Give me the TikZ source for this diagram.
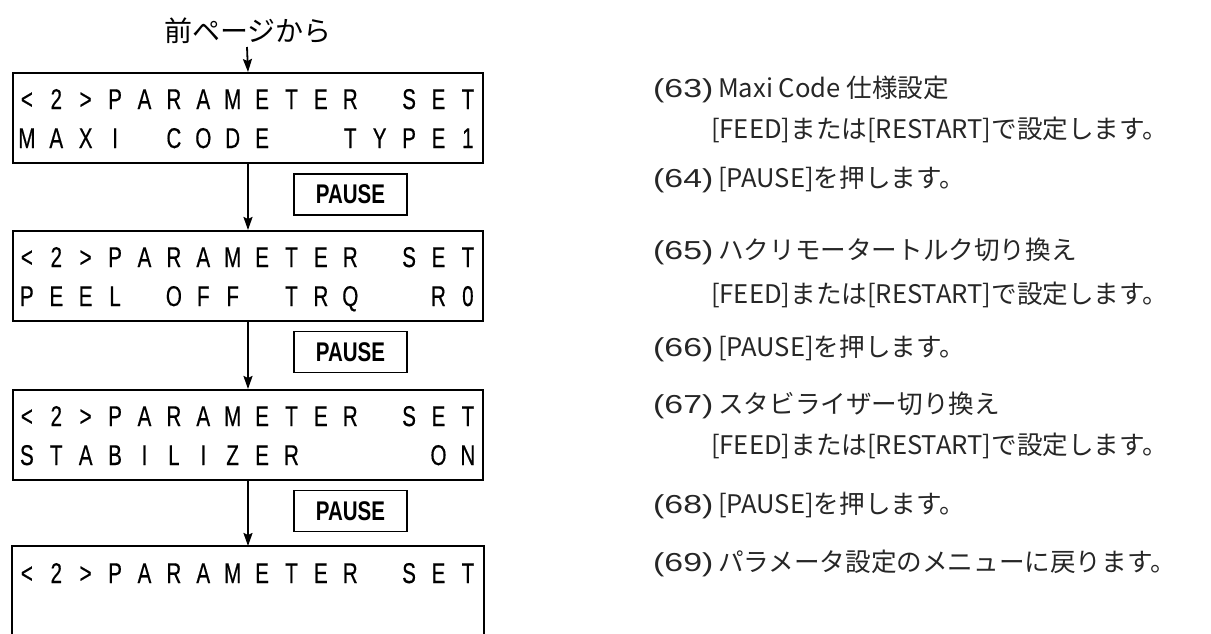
\documentclass[tikz,border=0pt]{standalone}
\usepackage{fontspec}
\setmainfont{Liberation Sans}
\newfontfamily\jpfont{Noto Sans CJK JP}
\newfontfamily\numfont[FakeStretch=1.3]{Liberation Sans}
\newfontfamily\lcdfont[FakeStretch=0.72,FakeBold=0.4]{Liberation Sans}
\newfontfamily\keyfont[FakeStretch=0.76]{Liberation Sans}
\usetikzlibrary{arrows.meta}
\newcommand\lcdcells[1]{\lcdloop#1\relax}
\def\lcdloop#1{\ifx\relax#1\else\makebox[29.4pt]{\ifx.#1\else#1\fi}\expandafter\lcdloop\fi}
\begin{document}
\begin{tikzpicture}[x=1pt,y=-1pt,
  lcdbox/.style={draw, line width=2pt, minimum width=470pt, minimum height=90pt, inner sep=0pt, anchor=north west},
  lcdtext/.style={inner sep=0pt, anchor=base west, font={\lcdfont\fontsize{28.6pt}{30pt}\selectfont}},
  keybox/.style={draw, line width=1.8pt, minimum width=113pt, minimum height=41pt, inner sep=0pt, font={\keyfont\bfseries\fontsize{27pt}{27pt}\selectfont}},
  rtext/.style={inner sep=0pt, anchor=base west, text=black!85, font={\jpfont\fontsize{25.6pt}{28pt}\selectfont}},
  rnum/.style={inner sep=0pt, anchor=base west, text=black!85, font={\numfont\fontsize{26pt}{28pt}\selectfont}},
  arr/.style={line width=1.8pt, -{Stealth[length=13pt,width=9pt,inset=2pt]}}]
\useasboundingbox (0,0) rectangle (1211,633);
% heading
\node[inner sep=0pt, anchor=base, font={\jpfont\fontsize{28pt}{30pt}\selectfont}] (from) at (248,41) {前ページから};
\coordinate (a0) at (247,47);
% boxes
\node[lcdbox] (b1) at (12,72) {};
\node[lcdbox] (b2) at (12,230) {};
\node[lcdbox] (b3) at (12,389) {};
\node[lcdbox, draw=none, minimum height=87pt] (b4) at (12,546) {};
\draw[line width=2pt] (b4.south west) -- (b4.north west) -- (b4.north east) -- (b4.south east);
% lcd texts
\node[lcdtext] (l11) at (12,109) {\lcdcells{<2>PARAMETER.SET}};
\node[lcdtext] (l12) at (12,148) {\lcdcells{MAXI.CODE..TYPE1}};
\node[lcdtext] (l21) at (12,267) {\lcdcells{<2>PARAMETER.SET}};
\node[lcdtext] (l22) at (12,306) {\lcdcells{PEEL.OFF.TRQ..R0}};
\node[lcdtext] (l31) at (12,426) {\lcdcells{<2>PARAMETER.SET}};
\node[lcdtext] (l32) at (12,465) {\lcdcells{STABILIZER....ON}};
\node[lcdtext] (l41) at (12,583) {\lcdcells{<2>PARAMETER.SET}};
% pause keys
\node[keybox] (p1) at (350.5,194.5) {PAUSE};
\node[keybox] (p2) at (350.5,352) {PAUSE};
\node[keybox] (p3) at (350.5,511) {PAUSE};
% arrows
\draw[arr] (a0) -- (b1.north);
\draw[arr] (b1.south) -- (b2.north);
\draw[arr] (b2.south) -- (b3.north);
\draw[arr] (b3.south) -- (b4.north);
% right texts
\node[rnum] (n63) at (653,97.5) {(63)};
\node[rtext] (t63) at (718,97.5) {Maxi Code 仕様設定};
\node[rtext] (t63b) at (711,138.5) {[FEED]または[RESTART]で設定します。};
\node[rnum] (n64) at (653,187.5) {(64)};
\node[rtext] (t64) at (718,187.5) {[PAUSE]を押します。};
\node[rnum] (n65) at (653,259) {(65)};
\node[rtext] (t65) at (718,259) {ハクリモータートルク切り換え};
\node[rtext] (t65b) at (711,303) {[FEED]または[RESTART]で設定します。};
\node[rnum] (n66) at (653,356.5) {(66)};
\node[rtext] (t66) at (718,356.5) {[PAUSE]を押します。};
\node[rnum] (n67) at (653,413) {(67)};
\node[rtext] (t67) at (718,413) {スタビライザー切り換え};
\node[rtext] (t67b) at (711,454.5) {[FEED]または[RESTART]で設定します。};
\node[rnum] (n68) at (653,513) {(68)};
\node[rtext] (t68) at (718,513) {[PAUSE]を押します。};
\node[rnum] (n69) at (653,571) {(69)};
\node[rtext] (t69) at (718,571) {パラメータ設定のメニューに戻ります。};
\end{tikzpicture}
\end{document}
